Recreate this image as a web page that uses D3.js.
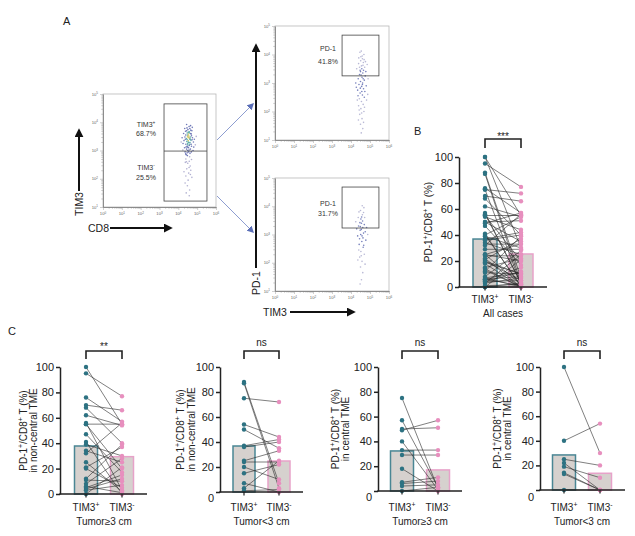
<!DOCTYPE html>
<html><head><meta charset="utf-8">
<script src="https://cdn.jsdelivr.net/npm/d3@7"></script>
<style>body{margin:0;background:#fff}svg{display:block}text{font-family:"Liberation Sans",Arial,sans-serif;fill:#222}</style>
</head><body><script>
// ---------------- DATA ----------------
const categories = ["TIM3{+}", "TIM3{-}"];
const yTicks = [0, 20, 40, 60, 80, 100];

// Panel C1: non-central TME, Tumor >= 3 cm
const c1Plus  = [100,95,76,70,68,62,55,55,47,41,39,34,32,25,21,20,12,11,8,6,5,4,3,0,56];
const c1Minus = [55,77,57,66,40,54,55,20,17,0,30,25,56,2,37,5,39,10,28,1,15,12,7,21,3];
const c1Means = [37.8, 29.4];
// Panel C2: non-central TME, Tumor < 3 cm
const c2Plus  = [88,87,75,54,50,37,36,25,24,20,15,7,3,1];
const c2Minus = [7,3,72,44,35,42,40,33,24,10,22,0,25,2];
const c2Means = [36.8, 24.8];
// Panel C3: central TME, Tumor >= 3 cm
const c3Plus  = [75,57,50,49,40,33,29,18,7,6,4,0];
const c3Minus = [2,3,51,57,1,33,29,0,11,8,5,3];
const c3Means = [32.3, 17.0];
// Panel C4: central TME, Tumor < 3 cm
const c4Plus  = [100,40,25,22,19,14,13,0];
const c4Minus = [30,54,20,0,10,0,0,0];
const c4Means = [28.5, 13.6];
// Panel B: all cases (all paired samples)
const bPlus  = [...c1Plus, ...c2Plus, ...c3Plus, ...c4Plus];
const bMinus = [...c1Minus, ...c2Minus, ...c3Minus, ...c4Minus];
const bMeans = [36.9, 25.4];

const sigLabels = ["***", "**", "ns", "ns", "ns"];
const groupLabels = ["All cases", "Tumor≥3 cm", "Tumor<3 cm", "Tumor≥3 cm", "Tumor<3 cm"];
const yLabel1 = "PD-1{+}/CD8{+} T (%)";
const yLabel2 = ["in non-central TME", "in non-central TME", "in central TME", "in central TME"];

// Flow cytometry (log10 exponents)
const flowXDecades = [0,1,2,3,4,5,6];
const flowYDecades = [1,2,3,4,5];
const flow1Pts = [[4.52,3.30],[4.61,3.41],[4.40,3.22],[4.70,3.15],[4.48,3.55],[4.58,3.62],[4.35,3.48],[4.66,3.72],[4.44,3.05],[4.55,2.95],
[4.30,3.35],[4.75,3.45],[4.62,3.28],[4.50,3.12],[4.38,3.68],[4.68,3.58],[4.46,3.80],[4.57,3.85],[4.42,2.85],[4.60,2.78],
[4.33,3.10],[4.80,3.30],[4.52,3.45],[4.64,3.05],[4.47,3.38],[4.55,3.52],[4.28,3.60],[4.72,3.70],[4.40,2.70],[4.58,2.62],
[4.36,2.95],[4.78,3.00],[4.50,2.55],[4.63,2.45],[4.45,2.35],[4.55,2.20],[4.40,2.10],[4.66,2.30],[4.52,1.95],[4.48,1.75],
[4.60,1.60],[4.42,1.50],[4.25,3.25],[4.85,3.40],[4.90,3.20],[4.20,3.45],[4.58,3.18],[4.49,3.25],[4.53,3.35],[4.61,3.22],
[4.43,3.42],[4.67,3.36],[4.56,3.48],[4.46,3.15],[4.70,3.52],[4.39,3.55],[4.59,3.66],[4.51,3.74],[4.65,3.88],[4.44,3.92],
[4.34,3.78],[4.74,3.82],[4.62,2.90],[4.48,2.82],[4.37,2.58],[4.70,2.68],[4.57,2.40],[4.43,2.60],[4.50,3.00],[4.82,3.12],
[4.24,3.02],[4.95,3.50],[4.15,3.30],[4.58,1.40],[4.36,1.85],[4.72,2.05],[4.30,2.25],[4.64,2.15],[4.54,3.58],[4.47,3.62],
[4.50,3.20],[4.56,3.28],[4.63,3.40],[4.45,3.32],[4.54,3.10],[4.68,3.22],[4.41,3.12],[4.59,3.44],[4.49,3.50],[4.66,3.60],
[4.37,3.40],[4.73,3.38],[4.53,3.65],[4.61,3.78],[4.44,3.70],[4.57,3.02],[4.47,2.92],[4.69,2.95],[4.39,2.88],[4.64,3.48]];
const flow2Pts = [[4.55,3.60],[4.65,3.72],[4.48,3.45],[4.72,3.55],[4.60,3.85],[4.40,3.68],[4.78,3.40],[4.52,3.92],[4.68,4.00],[4.45,3.30],
[4.58,3.20],[4.70,3.10],[4.38,3.15],[4.62,3.35],[4.50,3.05],[4.75,3.25],[4.42,2.95],[4.56,2.88],[4.66,2.80],[4.35,2.75],
[4.80,2.90],[4.48,2.65],[4.60,2.58],[4.70,2.50],[4.44,2.45],[4.55,2.35],[4.64,2.25],[4.40,2.20],[4.52,2.10],[4.68,2.00],
[4.46,1.90],[4.58,1.75],[4.50,1.55],[4.62,1.40],[4.54,1.25],[4.30,3.50],[4.85,3.65],[4.25,3.00],[4.90,3.15],[4.57,3.50],
[4.63,3.62],[4.51,3.78],[4.59,3.95],[4.47,4.08],[4.66,3.45],[4.53,3.28],[4.61,3.00],[4.49,2.82],[4.73,2.70],[4.37,2.55],
[4.57,2.70],[4.45,3.55],[4.69,3.82],[4.41,3.88],[4.76,3.75],[4.54,4.12],[4.33,2.40],[4.82,2.40],[4.60,2.95],[4.50,3.40],
[4.64,3.15],[4.43,2.05],[4.71,2.15],[4.56,1.95],[4.39,1.70],[4.66,1.62],[4.28,2.85],[4.88,2.60]];
const flow3Pts = [[4.55,3.40],[4.62,3.25],[4.48,3.15],[4.70,3.35],[4.52,3.55],[4.40,3.30],[4.66,3.05],[4.58,2.95],[4.45,2.85],[4.75,3.10],
[4.60,3.70],[4.50,3.85],[4.68,3.95],[4.38,3.60],[4.57,2.75],[4.43,2.65],[4.64,2.55],[4.52,2.40],[4.70,2.30],[4.46,2.20],
[4.58,2.05],[4.50,1.85],[4.62,1.65],[4.55,1.40],[4.48,1.25],[4.30,3.20],[4.82,3.25],[4.35,2.95],[4.78,2.80],[4.54,3.18],
[4.61,3.48],[4.47,3.42],[4.56,3.62],[4.66,3.78],[4.42,3.80],[4.72,3.60],[4.51,3.00],[4.63,2.88],[4.41,2.45],[4.67,2.62],
[4.54,2.25],[4.36,2.10],[4.74,1.95],[4.59,4.02],[4.49,3.28],[4.25,3.45],[4.88,3.00]];
// gates: [xLo, xHi, yLo, yHi] in log10
const flow1Gate = [3.24, 5.52, 1.21, 4.65], flow1Split = 2.98;
const flow2Gate = [3.53, 5.47, 3.25, 4.68];
const flow3Gate = [3.53, 5.47, 3.23, 4.68];
const flow1Labels = [["TIM3{+}", "68.7%"], ["TIM3{-}", "25.5%"]];
const flow2Labels = [["PD-1", "41.8%"]];
const flow3Labels = [["PD-1", "31.7%"]];

// ---------------- DRAW ----------------
const svg = d3.select("body").append("svg").attr("width", 635).attr("height", 536);
const defs = svg.append("defs");
function mk(id, color, size) {
  defs.append("marker").attr("id", id).attr("viewBox", "0 0 10 10").attr("refX", 8).attr("refY", 5)
    .attr("markerWidth", size).attr("markerHeight", size).attr("markerUnits", "userSpaceOnUse").attr("orient", "auto")
    .append("path").attr("d", "M0,0L10,5L0,10z").attr("fill", color);
}
mk("kh", "#111", 9); mk("bh", "#5b6fb8", 7);

function rich(t, str, fs) {
  const parts = str.split(/(\{[^}]*\})/).filter(s => s);
  let shifted = false;
  parts.forEach(p => {
    if (p[0] === "{") { t.append("tspan").attr("dy", -fs * 0.38).attr("font-size", fs * 0.68).text(p.slice(1, -1)); shifted = true; }
    else { const s = t.append("tspan").attr("font-size", fs).text(p); if (shifted) { s.attr("dy", fs * 0.38); shifted = false; } }
  });
  return t;
}
function label(x, y, str, fs, anchor, rot) {
  const t = svg.append("text").attr("text-anchor", anchor || "start").attr("font-size", fs);
  if (rot) t.attr("transform", `translate(${x},${y}) rotate(-90)`); else t.attr("x", x).attr("y", y);
  return rich(t, str, fs);
}

// panel letters
svg.append("text").attr("x", 63).attr("y", 25).attr("font-size", 11).text("A");
svg.append("text").attr("x", 414).attr("y", 135).attr("font-size", 11).text("B");
svg.append("text").attr("x", 8).attr("y", 335).attr("font-size", 11).text("C");

// ---- flow plots ----
function flow(cfg) {
  const { x0, x1, y0, y1, pts, gate, split, labels, labelX, labelYs, hot } = cfg;
  const x = d3.scaleLog().domain([1, 1e6]).range([x0, x1]);
  const y = d3.scaleLog().domain([10, 1e5]).range([y1, y0]);
  const g = svg.append("g");
  g.append("rect").attr("x", x0).attr("y", y0).attr("width", x1 - x0).attr("height", y1 - y0)
    .attr("fill", "none").attr("stroke", "#b8b8b8").attr("stroke-width", 0.8);
  const isMaj = d => Math.abs(Math.log10(d) - Math.round(Math.log10(d))) < 1e-9;
  const xa = g.append("g").attr("transform", `translate(0,${y1})`)
    .call(d3.axisBottom(x).tickValues(x.ticks()).tickSize(1.8).tickSizeOuter(0).tickFormat(""));
  const ya = g.append("g").attr("transform", `translate(${x0},0)`)
    .call(d3.axisLeft(y).tickValues(y.ticks()).tickSize(1.8).tickSizeOuter(0).tickFormat(""));
  [xa, ya].forEach(a => {
    a.select(".domain").attr("stroke", "#777").attr("stroke-width", 0.8);
    a.selectAll(".tick line").attr("stroke", "#888").attr("stroke-width", 0.4);
  });
  xa.selectAll(".tick line").filter(isMaj).attr("y2", 3);
  ya.selectAll(".tick line").filter(isMaj).attr("x2", -3);
  flowXDecades.forEach(e => {
    const t = g.append("text").attr("x", x(10 ** e)).attr("y", y1 + 8).attr("text-anchor", "middle").attr("font-size", 4.2).style("fill", "#666");
    t.append("tspan").text("10"); t.append("tspan").attr("dy", -1.5).attr("font-size", 3).text(e);
  });
  flowYDecades.forEach(e => {
    const t = g.append("text").attr("x", x0 - 5).attr("y", y(10 ** e) + 1.5).attr("text-anchor", "end").attr("font-size", 4.2).style("fill", "#666");
    t.append("tspan").text("10"); t.append("tspan").attr("dy", -1.5).attr("font-size", 3).text(e);
  });
  const mx = d3.median(pts, p => p[0]), my = d3.median(pts, p => p[1]);
  const col = p => {
    const d = Math.hypot((p[0] - mx) / 0.25, (p[1] - my - (hot ? 0.2 : 0)) / 0.45);
    if (hot) return d < 0.3 ? "#cdbf4a" : d < 0.6 ? "#3f9c9a" : d < 1.5 ? "#4c58a6" : "#9d9cc6";
    return d < 1.3 ? "#5561ab" : "#a6a6ca";
  };
  g.selectAll("circle").data(pts).join("circle")
    .attr("cx", p => x(10 ** p[0])).attr("cy", p => y(10 ** p[1])).attr("r", 0.8)
    .attr("fill", col).attr("opacity", 0.8);
  g.append("rect").attr("x", x(10 ** gate[0])).attr("y", y(10 ** gate[3]))
    .attr("width", x(10 ** gate[1]) - x(10 ** gate[0])).attr("height", y(10 ** gate[2]) - y(10 ** gate[3]))
    .attr("fill", "none").attr("stroke", "#444").attr("stroke-width", 0.8);
  if (split != null) g.append("line").attr("x1", x(10 ** gate[0])).attr("x2", x(10 ** gate[1]))
    .attr("y1", y(10 ** split)).attr("y2", y(10 ** split)).attr("stroke", "#444").attr("stroke-width", 0.8);
  labels.forEach((lb, i) => {
    label(labelX, labelYs[i][0], lb[0], 7, "middle").style("fill", "#333");
    label(labelX, labelYs[i][1], lb[1], 7, "middle").style("fill", "#333");
  });
}
flow({ x0: 103, x1: 216, y0: 94, y1: 207, pts: flow1Pts, gate: flow1Gate, split: flow1Split, labels: flow1Labels, labelX: 146, labelYs: [[127, 136], [170, 180]], hot: true });
flow({ x0: 275, x1: 389, y0: 26, y1: 140, pts: flow2Pts, gate: flow2Gate, labels: flow2Labels, labelX: 328, labelYs: [[51, 64]] });
flow({ x0: 275, x1: 389, y0: 178, y1: 291, pts: flow3Pts, gate: flow3Gate, labels: flow3Labels, labelX: 328, labelYs: [[206, 216]] });

// arrows
const arrow = (x1, y1, x2, y2, m, w, c) => svg.append("line").attr("x1", x1).attr("y1", y1).attr("x2", x2).attr("y2", y2)
  .attr("stroke", c).attr("stroke-width", w).attr("marker-end", `url(#${m})`);
arrow(217, 140, 253, 104, "bh", 0.8, "#7084c4");
arrow(217, 196, 253, 232, "bh", 0.8, "#7084c4");
arrow(79, 191, 79, 130, "kh", 2, "#111");
arrow(110, 228, 171, 228, "kh", 2, "#111");
arrow(256, 268, 256, 45, "kh", 2, "#111");
arrow(290, 312, 354, 312, "kh", 2, "#111");
label(82.8, 204, "TIM3", 10.5, "middle", true);
label(88, 232, "CD8", 10.5, "start");
label(259.8, 283, "PD-1", 10.5, "middle", true);
label(263, 316, "TIM3", 10.5, "start");

// ---- paired bar/dot plots ----
function paired(c) {
  const x = d3.scaleBand().domain(categories).range(c.band);
  const cx = k => x(k) + x.bandwidth() / 2;
  const y = d3.scaleLinear().domain([0, 100]).range([c.yZero, c.yTop]);
  const g = svg.append("g");
  const strokes = ["#4a8694", "#e7a2c9"];
  g.selectAll("rect.bar").data(c.means).join("rect").attr("class", "bar")
    .attr("x", (d, i) => cx(categories[i]) - c.barW / 2).attr("y", d => y(d))
    .attr("width", c.barW).attr("height", d => c.yZero - y(d))
    .attr("fill", "#d6d1ce").attr("stroke", (d, i) => strokes[i]).attr("stroke-width", 1.5);
  g.selectAll("line.pair").data(c.plus).join("line").attr("class", "pair")
    .attr("x1", cx(categories[0])).attr("x2", cx(categories[1]))
    .attr("y1", d => y(d)).attr("y2", (d, i) => y(c.minus[i]))
    .attr("stroke", "#2a2a2a").attr("stroke-width", 0.6);
  g.selectAll("circle.p").data(c.plus).join("circle").attr("class", "p")
    .attr("cx", cx(categories[0])).attr("cy", d => y(d)).attr("r", 2.2).attr("fill", "#2d7282");
  g.selectAll("circle.m").data(c.minus).join("circle").attr("class", "m")
    .attr("cx", cx(categories[1])).attr("cy", d => y(d)).attr("r", 2.2).attr("fill", "#e78fbe");
  const ya = g.append("g").attr("transform", `translate(${c.ax},0)`)
    .call(d3.axisLeft(y).tickValues(yTicks).tickSize(4).tickPadding(2).tickSizeOuter(0));
  ya.select(".domain").attr("stroke", "#222").attr("stroke-width", 1.5);
  ya.selectAll(".tick line").attr("stroke", "#222").attr("stroke-width", 1.5);
  ya.selectAll(".tick text").attr("font-size", 11).attr("font-family", "Liberation Sans, Arial, sans-serif").style("fill", "#222");
  if (c.zeroShift) ya.selectAll(".tick text").filter(d => d === 0).attr("dy", 0.32 * 11 + c.zeroShift);
  g.append("line").attr("x1", c.ax - 0.75).attr("x2", c.xEnd).attr("y1", c.yZero).attr("y2", c.yZero)
    .attr("stroke", "#222").attr("stroke-width", 1.5);
  categories.forEach(k => {
    g.append("line").attr("x1", cx(k)).attr("x2", cx(k)).attr("y1", c.yZero).attr("y2", c.yZero + 3.5)
      .attr("stroke", "#222").attr("stroke-width", 1.2);
    label(cx(k), c.catY, k, 10, "middle");
  });
  const a = cx(categories[0]), b = cx(categories[1]);
  g.append("path").attr("d", `M${a},${c.brBot}V${c.brTop}H${b}V${c.brBot}`)
    .attr("fill", "none").attr("stroke", "#222").attr("stroke-width", 1.6);
  g.append("text").attr("x", (a + b) / 2).attr("y", c.sigY).attr("text-anchor", "middle").attr("font-size", 10).text(c.sig);
  label((a + b) / 2, c.catY + 14, c.group, 10, "middle");
  const cy = (c.yTop + c.yZero) / 2;
  label(c.lx[0] + 3.5, cy, yLabel1, 10, "middle", true);
  if (c.lab2) label(c.lx[1] + 3.5, cy, c.lab2, 10, "middle", true);
}
paired({ ax: 459, xEnd: 547, yTop: 157, yZero: 287, band: [467, 539], barW: 24, plus: bPlus, minus: bMinus, means: bMeans,
  sig: sigLabels[0], brTop: 139, brBot: 148, sigY: 140, catY: 303, group: groupLabels[0], lx: [428] });
paired({ ax: 60, xEnd: 147, yTop: 367, yZero: 494, band: [68, 140], barW: 23, plus: c1Plus, minus: c1Minus, means: c1Means,
  sig: sigLabels[1], brTop: 351, brBot: 359, sigY: 350, catY: 511, group: groupLabels[1], lx: [23, 33], lab2: yLabel2[0] });
paired({ ax: 220, xEnd: 303, yTop: 367, yZero: 492, band: [226.5, 296.5], barW: 22, plus: c2Plus, minus: c2Minus, means: c2Means,
  sig: sigLabels[2], brTop: 351, brBot: 359, sigY: 346, catY: 511, group: groupLabels[2], lx: [180, 191], lab2: yLabel2[1], zeroShift: 6 });
paired({ ax: 378, xEnd: 462, yTop: 367, yZero: 491, band: [384, 456], barW: 23, plus: c3Plus, minus: c3Minus, means: c3Means,
  sig: sigLabels[3], brTop: 351, brBot: 359, sigY: 346, catY: 511, group: groupLabels[3], lx: [335, 345], lab2: yLabel2[2], zeroShift: 6 });
paired({ ax: 540, xEnd: 625, yTop: 367, yZero: 490, band: [546, 618], barW: 23, plus: c4Plus, minus: c4Minus, means: c4Means,
  sig: sigLabels[4], brTop: 351, brBot: 359, sigY: 346, catY: 511, group: groupLabels[4], lx: [497, 507], lab2: yLabel2[3], zeroShift: 7 });
</script></body></html>
